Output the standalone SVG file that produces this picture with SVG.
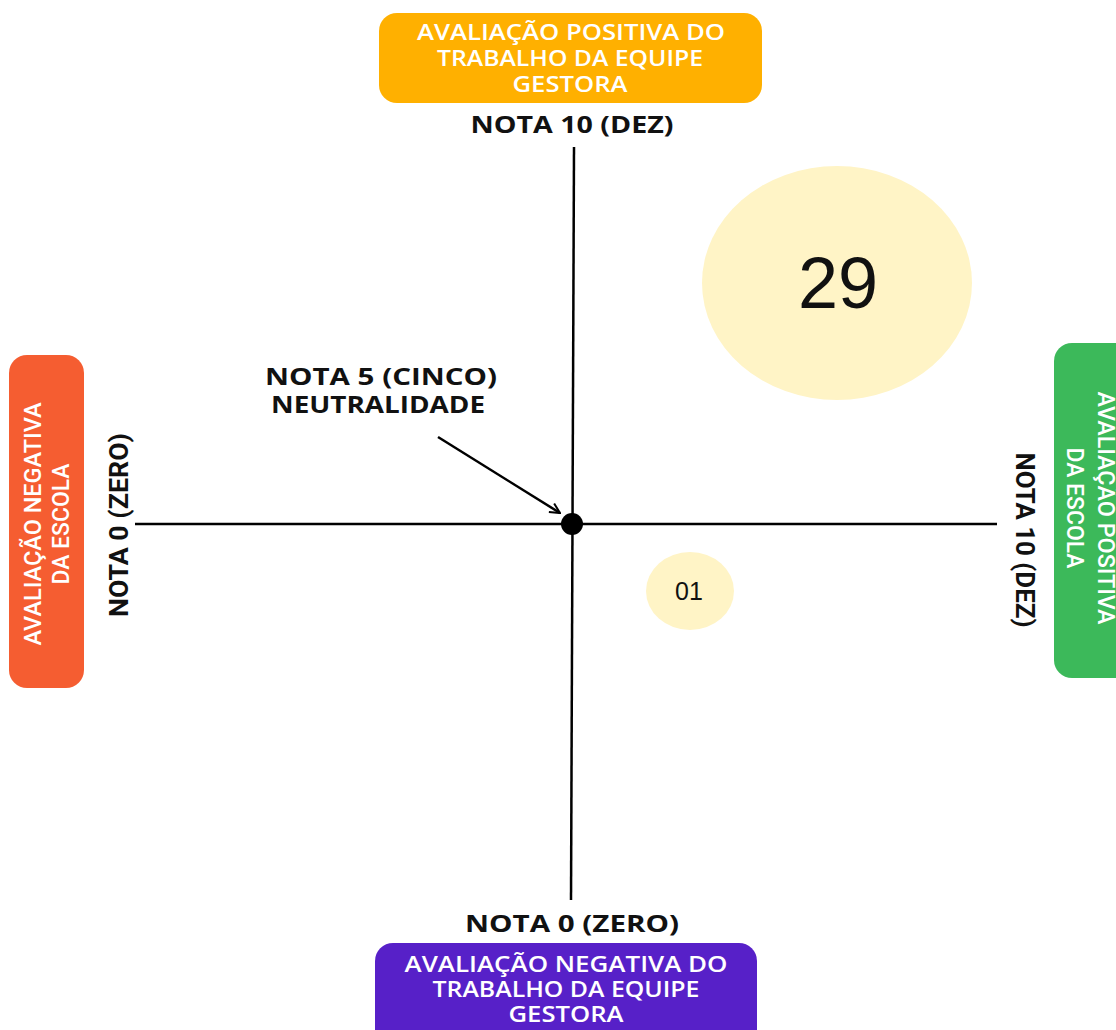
<svg xmlns="http://www.w3.org/2000/svg" width="1116" height="1030" viewBox="0 0 1116 1030">
<style>
.box{font-family:"Open Sans","Liberation Sans",Arial,sans-serif;font-size:21px;font-weight:600;fill:#ffffff;text-anchor:middle}
.vbox{font-family:Roboto,"Liberation Sans",sans-serif;font-size:23px;font-weight:500;fill:#ffffff;text-anchor:middle}
.lbl{font-family:"Open Sans","Liberation Sans",Arial,sans-serif;font-size:24px;font-weight:bold;fill:#111111;text-anchor:middle}
.vlbl{font-family:Roboto,"Liberation Sans",sans-serif;font-size:26px;font-weight:bold;fill:#111111;text-anchor:middle}
.num{font-family:"Liberation Sans",Arial,sans-serif;fill:#111111;text-anchor:middle}
.axis{stroke:#000000;stroke-width:2.5;fill:none}
</style>
<defs>
<marker id="arr" viewBox="0 0 12 12" refX="11" refY="6" markerWidth="12" markerHeight="12" markerUnits="userSpaceOnUse" orient="auto">
<polyline points="1,1 11,6 1,11" fill="none" stroke="#000" stroke-width="2"/>
</marker>
</defs>
<rect width="1116" height="1030" fill="#ffffff"/>

<g id="connectors">
<line class="axis" x1="574" y1="147" x2="571" y2="900"/>
<line class="axis" x1="135" y1="524" x2="997" y2="524"/>
<line class="axis" x1="438" y1="437" x2="560" y2="513" marker-end="url(#arr)"/>
</g>

<g id="center-dot"><circle cx="572" cy="524" r="11" fill="#000"/></g>

<g id="top-box">
<rect x="379" y="13" width="383" height="90" rx="18" fill="#FFB000"/>
<text class="box" x="571" y="40" textLength="308" lengthAdjust="spacingAndGlyphs">AVALIAÇÃO POSITIVA DO</text>
<text class="box" x="570" y="66" textLength="266" lengthAdjust="spacingAndGlyphs">TRABALHO DA EQUIPE</text>
<text class="box" x="570" y="92" textLength="115" lengthAdjust="spacingAndGlyphs">GESTORA</text>
</g>
<g id="top-label"><text class="lbl" x="572" y="133" textLength="203" lengthAdjust="spacingAndGlyphs">NOTA 10 (DEZ)</text></g>

<g id="bottom-label"><text class="lbl" x="572" y="932" textLength="214" lengthAdjust="spacingAndGlyphs">NOTA 0 (ZERO)</text></g>
<g id="bottom-box">
<rect x="375" y="943" width="382" height="110" rx="18" fill="#5720C8"/>
<text class="box" x="566" y="972" textLength="323" lengthAdjust="spacingAndGlyphs">AVALIAÇÃO NEGATIVA DO</text>
<text class="box" x="566" y="997" textLength="267" lengthAdjust="spacingAndGlyphs">TRABALHO DA EQUIPE</text>
<text class="box" x="566" y="1022" textLength="115" lengthAdjust="spacingAndGlyphs">GESTORA</text>
</g>

<g id="left-box">
<rect x="9" y="355" width="75" height="333" rx="18" fill="#F55D31"/>
<text class="vbox" transform="translate(41,524) rotate(-90)" x="0" y="0" textLength="243" lengthAdjust="spacingAndGlyphs">AVALIAÇÃO NEGATIVA</text>
<text class="vbox" transform="translate(69,524) rotate(-90)" x="0" y="0" textLength="121" lengthAdjust="spacingAndGlyphs">DA ESCOLA</text>
</g>
<g id="left-label"><text class="vlbl" transform="translate(128,525) rotate(-90)" x="0" y="0" textLength="184" lengthAdjust="spacingAndGlyphs">NOTA 0 (ZERO)</text></g>

<g id="right-box">
<rect x="1054" y="343" width="90" height="335" rx="18" fill="#3CB95A"/>
<text class="vbox" transform="translate(1098,508) rotate(90)" x="0" y="0" textLength="233" lengthAdjust="spacingAndGlyphs">AVALIAÇÃO POSITIVA</text>
<text class="vbox" transform="translate(1067,508) rotate(90)" x="0" y="0" textLength="121" lengthAdjust="spacingAndGlyphs">DA ESCOLA</text>
</g>
<g id="right-label"><text class="vlbl" transform="translate(1016,540) rotate(90)" x="0" y="0" textLength="175" lengthAdjust="spacingAndGlyphs">NOTA 10 (DEZ)</text></g>

<g id="neutral-label">
<text class="lbl" x="381" y="385" textLength="232" lengthAdjust="spacingAndGlyphs">NOTA 5 (CINCO)</text>
<text class="lbl" x="378" y="413" textLength="214" lengthAdjust="spacingAndGlyphs">NEUTRALIDADE</text>
</g>

<g id="big-circle">
<ellipse cx="837" cy="283" rx="135" ry="117" fill="#FFF4C6"/>
<text class="num" x="838" y="308" font-size="72">29</text>
</g>

<g id="small-circle">
<ellipse cx="690" cy="591" rx="44" ry="39" fill="#FFF4C6"/>
<text class="num" x="689" y="600" font-size="25">01</text>
</g>
</svg>
